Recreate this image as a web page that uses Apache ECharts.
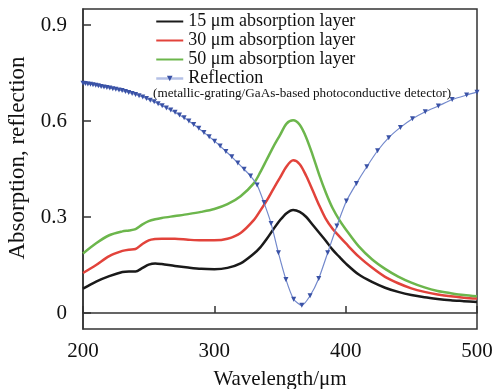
<!DOCTYPE html>
<html>
<head>
<meta charset="utf-8">
<script src="https://cdn.jsdelivr.net/npm/echarts@6/dist/echarts.min.js"></script>
<style>html,body{margin:0;padding:0;background:#fff;}#c{width:494px;height:389px;}</style>
</head>
<body>
<div id="c"></div>
<script>
const seriesNames = ['15 μm absorption layer', '30 μm absorption layer', '50 μm absorption layer', 'Reflection'];
const subNote = '(metallic-grating/GaAs-based photoconductive detector)';
const xTicks = [200, 300, 400, 500];
const yTicks = [0, 0.3, 0.6, 0.9];

const absWl = [200,210,220,230,235,240,245,250,255,260,270,280,290,300,310,320,330,335,340,345,350,355,360,365,370,375,380,385,390,395,400,410,420,430,440,450,460,470,480,490,500];
const abs15 = [0.076,0.098,0.115,0.128,0.130,0.130,0.140,0.151,0.155,0.153,0.147,0.142,0.138,0.137,0.141,0.155,0.185,0.205,0.232,0.262,0.290,0.312,0.322,0.316,0.300,0.275,0.250,0.225,0.198,0.176,0.155,0.120,0.097,0.079,0.066,0.056,0.049,0.044,0.040,0.037,0.034];
const abs30 = [0.125,0.150,0.178,0.194,0.198,0.200,0.215,0.227,0.231,0.232,0.232,0.229,0.227,0.227,0.232,0.250,0.290,0.320,0.352,0.388,0.423,0.458,0.477,0.465,0.428,0.382,0.335,0.293,0.263,0.240,0.218,0.176,0.142,0.113,0.093,0.077,0.066,0.058,0.052,0.048,0.045];
const abs50 = [0.186,0.218,0.243,0.255,0.258,0.262,0.276,0.287,0.293,0.297,0.303,0.309,0.316,0.325,0.340,0.365,0.405,0.440,0.480,0.520,0.556,0.592,0.602,0.588,0.548,0.492,0.430,0.375,0.328,0.292,0.262,0.208,0.168,0.138,0.114,0.095,0.080,0.069,0.062,0.056,0.052];

const reflWl = [200,201.8,203.7,205.7,207.6,209.7,211.7,213.8,216.0,218.2,220.4,222.7,225.0,227.4,229.8,232.3,234.8,237.4,240.0,242.7,245.5,248.3,251.2,254.2,257.2,260.3,263.5,266.8,270.1,273.5,277.0,280.6,284.3,288.2,292.1,296.1,300.2,304.4,308.8,313.3,317.9,322.7,327.6,332.6,337.8,343.2,348.8,354.5,360.4,366.6,372.9,379.5,386.3,393.3,400.6,408.2,416.1,424.3,432.8,441.7,450.9,460.6,470.6,481.1,492.1,500];
const reflVal = [0.718,0.717,0.716,0.715,0.713,0.712,0.710,0.708,0.706,0.705,0.703,0.701,0.699,0.697,0.695,0.692,0.689,0.686,0.683,0.679,0.675,0.670,0.665,0.660,0.654,0.648,0.641,0.634,0.627,0.619,0.610,0.600,0.589,0.577,0.564,0.551,0.537,0.522,0.505,0.488,0.469,0.449,0.428,0.400,0.345,0.280,0.188,0.105,0.043,0.024,0.054,0.108,0.188,0.272,0.350,0.405,0.457,0.507,0.548,0.580,0.607,0.629,0.647,0.667,0.681,0.690];

const FONT = "'Liberation Serif','Times New Roman',serif";
const zip = (a, b) => a.map((v, i) => [v, b[i]]);

const chart = echarts.init(document.getElementById('c'), null, {renderer: 'canvas'});
chart.setOption({
  animation: false,
  backgroundColor: '#fff',
  grid: {left: 83, right: 17, top: 9, bottom: 60, outerBoundsMode: 'none', containLabel: false,
         show: true, borderColor: '#333', borderWidth: 1.5, backgroundColor: 'transparent'},
  xAxis: {
    type: 'value', min: 200, max: 500, interval: 100,
    name: 'Wavelength/μm', nameLocation: 'middle', nameGap: 40,
    nameTextStyle: {fontFamily: FONT, fontSize: 21, color: '#111'},
    axisLine: {show: true, lineStyle: {color: '#333', width: 1.5}},
    axisTick: {show: true, inside: true, length: 7, lineStyle: {color: '#333', width: 1.5}},
    axisLabel: {fontFamily: FONT, fontSize: 21, color: '#111', margin: 12, customValues: xTicks},
    splitLine: {show: false}
  },
  yAxis: {
    type: 'value', min: -0.05, max: 0.95,
    name: 'Absorption, reflection', nameLocation: 'middle', nameGap: 52,
    nameTextStyle: {fontFamily: FONT, fontSize: 23, color: '#111', padding: [0, 0, 0, 22]},
    axisLine: {show: true, lineStyle: {color: '#333', width: 1.5}},
    axisTick: {show: true, inside: true, length: 8, lineStyle: {color: '#333', width: 1.5}, customValues: yTicks},
    axisLabel: {fontFamily: FONT, fontSize: 21, color: '#111', margin: 16, customValues: yTicks},
    splitLine: {show: false}
  },
  legend: {
    orient: 'vertical', left: 155, top: 12.5, itemGap: 1, padding: 0,
    itemWidth: 27, itemHeight: 7,
    textStyle: {fontFamily: FONT, fontSize: 18, color: '#111'},
    data: [
      {name: seriesNames[0], itemStyle: {opacity: 0}},
      {name: seriesNames[1], itemStyle: {opacity: 0}},
      {name: seriesNames[2], itemStyle: {opacity: 0}},
      {name: seriesNames[3], lineStyle: {color: '#b4c0e6', width: 2.5}}
    ]
  },
  graphic: [{
    type: 'text', left: 153, top: 87,
    style: {text: subNote, fontFamily: FONT, fontSize: 13.2, fill: '#111'}
  }],
  series: [
    {name: seriesNames[0], type: 'line', data: zip(absWl, abs15), smooth: 0.3, symbol: 'none', lineStyle: {color: '#1a1a1a', width: 2.5}, itemStyle: {color: '#1a1a1a'}},
    {name: seriesNames[1], type: 'line', data: zip(absWl, abs30), smooth: 0.3, symbol: 'none', lineStyle: {color: '#e2433b', width: 2.5}, itemStyle: {color: '#e2433b'}},
    {name: seriesNames[2], type: 'line', data: zip(absWl, abs50), smooth: 0.3, symbol: 'none', lineStyle: {color: '#6cb64c', width: 2.5}, itemStyle: {color: '#6cb64c'}},
    {name: seriesNames[3], type: 'line', data: zip(reflWl, reflVal), smooth: 0.2, symbol: 'triangle', symbolRotate: 180, symbolSize: 5, showSymbol: true,
     lineStyle: {color: '#7389cc', width: 1.2}, itemStyle: {color: '#3a52a6'}, z: 3}
  ]
});
</script>
</body>
</html>
